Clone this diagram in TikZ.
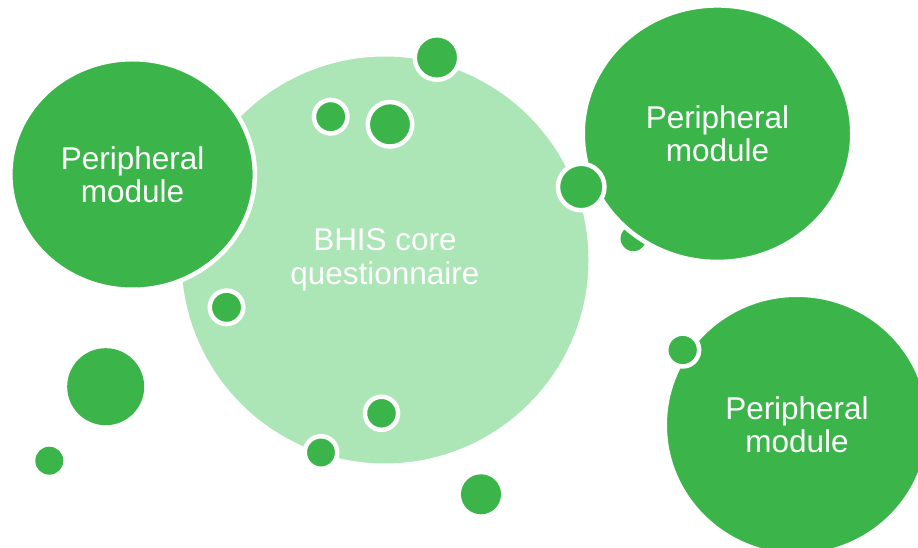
\documentclass[tikz,border=0pt]{standalone}
\usepackage{fontspec}
\setmainfont{Liberation Sans}
\usetikzlibrary{shapes.geometric}
\definecolor{dg}{HTML}{3BB54A}
\definecolor{lg}{HTML}{ADE6B6}
\begin{document}
\begin{tikzpicture}[x=1bp,y=-1bp,
  dot/.style={circle, fill=dg, draw=white, line width=4.5bp, inner sep=0pt, minimum size={2*#1 bp + 4.5bp}},
  blob/.style={ellipse, draw=white, line width=4.5bp, inner sep=0pt, text=white, align=center,
     font=\fontsize{31.6}{33.6}\selectfont},
  plain/.style={circle, fill=dg, inner sep=0pt, minimum size={2*#1 bp}}]
\useasboundingbox (0,0) rectangle (918,548);
% core
\node[blob, fill=lg, minimum width=411.5bp, minimum height=411.5bp] (core) at (385,260)
  {BHIS core\\questionnaire};
\node[dot=14.5] (d2) at (330.7,116.7) {};
\node[dot=20] (d3) at (390,124.3) {};
\node[dot=14.5] (d6) at (226.5,307.3) {};
\node[dot=14.3] (d7) at (381.5,413.3) {};
\node[dot=14] (d8) at (321,452.5) {};
\node[dot=20] (d1) at (437,57.5) {};
% left module
\node[blob, fill=dg, minimum width=244.5bp, minimum height=230.5bp] (left) at (132.6,174.5)
  {Peripheral\\module};
% top right
\node[dot=12.8] (d5) at (633.3,238.5) {};
\node[blob, fill=dg, minimum width=269.5bp, minimum height=256.5bp] (tr) at (717.5,133.7)
  {Peripheral\\module};
\node[dot=21] (d4) at (581.2,187) {};
% bottom right
\node[blob, fill=dg, minimum width=264.5bp, minimum height=260.5bp] (br) at (797,425)
  {Peripheral\\module};
\node[dot=14.2] (d12) at (682.7,350) {};
% free dots
\node[plain=38.5] (d10) at (105.7,386.7) {};
\node[plain=14] (d11) at (49.3,460.7) {};
\node[plain=20] (d9) at (481,494.3) {};
\end{tikzpicture}
\end{document}
